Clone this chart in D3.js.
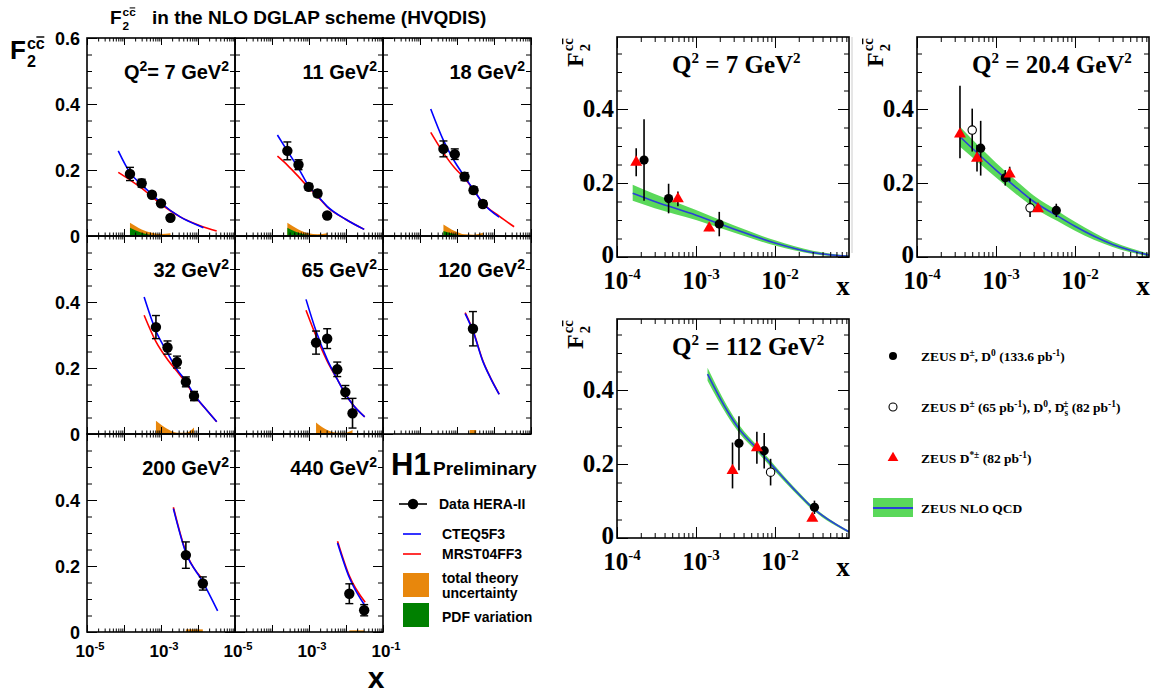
<!DOCTYPE html>
<html>
<head>
<meta charset="utf-8">
<script src="https://cdn.jsdelivr.net/npm/d3@7"></script>
<style>
  body { margin: 0; background: #fff; }
</style>
</head>
<body>
<svg id="chart" width="1155" height="693"></svg>
<script>
// ---------- H1 panels (F2cc in NLO DGLAP scheme) ----------
const h1Q2 = ["7", "11", "18", "32", "65", "120", "200", "440"];

const h1DataX = [
  [1.45e-4, 3.0e-4, 5.7e-4, 1.0e-3, 1.8e-3],
  [2.6e-4, 5.2e-4, 9.8e-4, 1.7e-3, 3.1e-3],
  [4.3e-4, 8.7e-4, 1.6e-3, 2.8e-3, 5.0e-3],
  [7.3e-4, 1.5e-3, 2.7e-3, 4.7e-3, 7.8e-3],
  [1.55e-3, 3.1e-3, 5.8e-3, 9.6e-3, 1.5e-2],
  [2.7e-3],
  [4.7e-3, 1.35e-2],
  [1.23e-2, 3.1e-2]
];
const h1DataY = [
  [0.188, 0.160, 0.125, 0.099, 0.055],
  [0.258, 0.216, 0.149, 0.129, 0.062],
  [0.264, 0.248, 0.180, 0.139, 0.097],
  [0.324, 0.262, 0.218, 0.158, 0.115],
  [0.277, 0.289, 0.196, 0.127, 0.063],
  [0.319],
  [0.233, 0.147],
  [0.116, 0.066]
];
const h1DataErr = [
  [0.020, 0.012, 0.008, 0.008, 0.006],
  [0.027, 0.015, 0.010, 0.010, 0.006],
  [0.024, 0.016, 0.012, 0.010, 0.010],
  [0.035, 0.020, 0.018, 0.015, 0.014],
  [0.035, 0.030, 0.022, 0.020, 0.045],
  [0.052],
  [0.040, 0.020],
  [0.030, 0.017]
];

const cteqX = [
  [7e-5, 1.45e-4, 3e-4, 5.7e-4, 1e-3, 3.3e-3, 1.1e-2, 1.4e-2],
  [1.4e-4, 2.6e-4, 5.2e-4, 1e-3, 1.7e-3, 3.1e-3, 1e-2, 3.1e-2],
  [1.95e-4, 4.3e-4, 8.7e-4, 1.6e-3, 2.8e-3, 5e-3, 1.38e-2],
  [3.5e-4, 7.3e-4, 1.5e-3, 2.7e-3, 4.7e-3, 7.8e-3, 1.5e-2, 3.2e-2],
  [8.3e-4, 1.55e-3, 3.1e-3, 5.8e-3, 9.6e-3, 1.5e-2, 3.2e-2],
  [1.66e-3, 2.7e-3, 5e-3, 8e-3, 1.38e-2],
  [2.16e-3, 4.7e-3, 1.35e-2, 3.4e-2],
  [5.9e-3, 1.23e-2, 3.3e-2]
];
const cteqY = [
  [0.258, 0.192, 0.155, 0.126, 0.100, 0.058, 0.030, 0.025],
  [0.306, 0.258, 0.205, 0.150, 0.122, 0.090, 0.050, 0.020],
  [0.385, 0.290, 0.225, 0.180, 0.140, 0.100, 0.057],
  [0.415, 0.312, 0.246, 0.196, 0.160, 0.120, 0.080, 0.037],
  [0.408, 0.312, 0.226, 0.166, 0.122, 0.090, 0.052],
  [0.365, 0.312, 0.220, 0.170, 0.120],
  [0.374, 0.240, 0.152, 0.064],
  [0.270, 0.165, 0.079]
];
const mrstX = [
  [7e-5, 1.45e-4, 3e-4, 5.7e-4, 1e-3, 3.3e-3, 1.1e-2, 3.2e-2],
  [1.4e-4, 2.6e-4, 5.2e-4, 1e-3, 1.7e-3, 3.1e-3, 1e-2, 3.1e-2],
  [1.95e-4, 4.3e-4, 8.7e-4, 1.6e-3, 2.8e-3, 5e-3, 1.38e-2, 3.5e-2],
  [3.5e-4, 7.3e-4, 1.5e-3, 2.7e-3, 4.7e-3, 7.8e-3, 1.5e-2, 3.2e-2],
  [8.3e-4, 1.55e-3, 3.1e-3, 5.8e-3, 9.6e-3, 1.5e-2, 3.2e-2],
  [1.66e-3, 2.7e-3, 5e-3, 8e-3, 1.38e-2],
  [2.16e-3, 4.7e-3, 1.22e-2],
  [5.9e-3, 1.23e-2, 3.3e-2]
];
const mrstY = [
  [0.193, 0.170, 0.145, 0.119, 0.097, 0.058, 0.032, 0.015],
  [0.242, 0.215, 0.180, 0.145, 0.120, 0.088, 0.050, 0.020],
  [0.314, 0.252, 0.206, 0.175, 0.140, 0.100, 0.060, 0.028],
  [0.360, 0.280, 0.226, 0.190, 0.155, 0.118, 0.080, 0.037],
  [0.375, 0.297, 0.221, 0.166, 0.122, 0.090, 0.052],
  [0.368, 0.314, 0.222, 0.171, 0.121],
  [0.378, 0.243, 0.165],
  [0.275, 0.170, 0.090]
];

const bandX = [
  [1.45e-4, 3.0e-4, 5.7e-4, 1.0e-3, 1.8e-3],
  [2.6e-4, 5.2e-4, 9.8e-4, 1.7e-3, 3.1e-3],
  [4.3e-4, 8.7e-4, 1.6e-3, 2.8e-3, 5.0e-3],
  [7.3e-4, 1.5e-3, 2.7e-3, 4.7e-3, 7.8e-3],
  [1.55e-3, 3.1e-3, 5.8e-3, 9.6e-3, 1.5e-2],
  [2.2e-3, 3.3e-3],
  [4.7e-3, 1.35e-2],
  [1.23e-2, 3.1e-2]
];
const theoryUnc = [
  [0.040, 0.020, 0.010, 0.006, 0.008],
  [0.040, 0.020, 0.008, 0.005, 0.008],
  [0.035, 0.015, 0.005, 0.004, 0.010],
  [0.040, 0.015, 0.004, 0.004, 0.020],
  [0.035, 0.012, 0.004, 0.004, 0.012],
  [0.012, 0.012],
  [0.008, 0.008],
  [0.005, 0.005]
];
const pdfVar = [
  [0.025, 0.010, 0.003, 0.001, 0.001],
  [0.025, 0.010, 0.003, 0.001, 0.001],
  [0.015, 0.005, 0.001, 0.000, 0.000],
  [0.003, 0.000, 0.000, 0.000, 0.000],
  [0.003, 0.000, 0.000, 0.000, 0.000],
  [0.002, 0.002],
  [0.001, 0.001],
  [0.001, 0.001]
];

const h1YTicks = [0, 0.2, 0.4, 0.6];
const h1XTickLabels = [1e-5, 1e-3, 1e-1];

// ---------- ZEUS panels ----------
const zeusQ2 = ["7", "20.4", "112"];

const zeusFullX = [[2.2e-4, 4.5e-4, 1.97e-3], [6.4e-4, 1.31e-3, 5.8e-3], [3.5e-3, 7.3e-3, 3.16e-2]];
const zeusFullY = [[0.262, 0.158, 0.089], [0.294, 0.214, 0.126], [0.256, 0.236, 0.083]];
const zeusFullErr = [[0.110, 0.040, 0.033], [0.074, 0.021, 0.018], [0.073, 0.048, 0.018]];

const zeusOpenX = [[], [5.0e-4, 2.7e-3], [8.8e-3]];
const zeusOpenY = [[], [0.343, 0.133], [0.178]];
const zeusOpenErr = [[], [0.058, 0.025], [0.036]];

const zeusTriX = [[1.75e-4, 5.9e-4, 1.47e-3], [3.5e-4, 5.75e-4, 1.49e-3, 3.4e-3], [2.9e-3, 5.9e-3, 2.97e-2]];
const zeusTriY = [[0.256, 0.157, 0.078], [0.332, 0.267, 0.224, 0.130], [0.182, 0.244, 0.053]];
const zeusTriErrUp = [[0.038, 0.020, 0.008], [0.131, 0.036, 0.020, 0.008], [0.076, 0.043, 0.006]];
const zeusTriErrDn = [[0.038, 0.020, 0.008], [0.065, 0.036, 0.020, 0.008], [0.048, 0.043, 0.006]];

const zeusCurveX = [
  [1.58e-4, 3e-4, 1e-3, 3e-3, 1e-2, 3e-2, 8.65e-2],
  [3.5e-4, 1e-3, 2e-3, 3e-3, 6e-3, 1e-2, 3e-2, 8.65e-2],
  [1.4e-3, 2.45e-3, 3.6e-3, 5.9e-3, 9.5e-3, 1.7e-2, 3.05e-2, 8.57e-2]
];
const zeusCurveY = [
  [0.172, 0.150, 0.113, 0.076, 0.038, 0.012, 0.002],
  [0.325, 0.235, 0.180, 0.150, 0.111, 0.083, 0.034, 0.005],
  [0.443, 0.346, 0.292, 0.242, 0.193, 0.134, 0.080, 0.017]
];
const zeusBandLo = [
  [0.152, 0.132, 0.100, 0.066, 0.031, 0.008, 0.000],
  [0.298, 0.215, 0.162, 0.134, 0.097, 0.071, 0.027, 0.001],
  [0.425, 0.333, 0.281, 0.233, 0.185, 0.128, 0.075, 0.014]
];
const zeusBandHi = [
  [0.195, 0.170, 0.127, 0.086, 0.045, 0.017, 0.004],
  [0.352, 0.255, 0.198, 0.166, 0.125, 0.095, 0.041, 0.009],
  [0.460, 0.359, 0.303, 0.251, 0.201, 0.140, 0.085, 0.020]
];

const zeusYTicks = [0, 0.2, 0.4];
const zeusXTickLabels = [1e-4, 1e-3, 1e-2];

// ---------- drawing ----------
const svg = d3.select("#chart");
const SANS = "'Liberation Sans', Arial, Helvetica, sans-serif";
const SERIF = "'Liberation Serif', 'Times New Roman', serif";
const ORANGE = "#e8870c", DKGREEN = "#008000", LTGREEN = "#5ad85a", ZBLUE = "#2a3fd8";

const isDecade = v => Math.abs(Math.log10(v) - Math.round(Math.log10(v))) < 1e-6;
const isMajorY = v => Math.abs(v / 0.2 - Math.round(v / 0.2)) < 1e-6;

// text with super/subscripts; parts = [text, kind, dx]
function richText(g, x, y, parts, o) {
  const t = g.append("text").attr("x", x).attr("y", y)
    .attr("font-family", o.family).attr("font-weight", "bold")
    .attr("font-size", o.size).attr("text-anchor", o.anchor || "start")
    .attr("fill", "#000");
  let shift = 0;
  parts.forEach(([s, kind, dx]) => {
    const want = kind === "sup" ? -o.size * (o.supRaise || 0.42) : kind === "sub" ? o.size * 0.28 : 0;
    const ts = t.append("tspan").attr("dy", want - shift)
      .attr("font-size", kind === "n" ? o.size : o.size * (o.small || 0.65)).text(s);
    if (dx) ts.attr("dx", dx);
    shift = want;
  });
  return t;
}

// F_2^{c cbar} with stacked sub/sup
function f2Label(g, x, y, size, family) {
  const f = g.append("text").attr("x", x).attr("y", y)
    .attr("font-family", family).attr("font-weight", "bold").attr("font-size", size).text("F");
  const w = f.node().getComputedTextLength();
  const s = size * 0.62;
  const sup = g.append("text").attr("x", x + w + 1).attr("y", y - size * 0.4)
    .attr("font-family", family).attr("font-weight", "bold").attr("font-size", s).text("cc");
  const wc = sup.node().getComputedTextLength() / 2;
  g.append("line")
    .attr("x1", x + w + 1 + wc + 0.5).attr("x2", x + w + 1 + 2 * wc - 0.5)
    .attr("y1", y - size * 0.4 - s * 0.72).attr("y2", y - size * 0.4 - s * 0.72)
    .attr("stroke", "#000").attr("stroke-width", Math.max(1, size / 18));
  g.append("text").attr("x", x + w + 1).attr("y", y + size * 0.3)
    .attr("font-family", family).attr("font-weight", "bold").attr("font-size", s).text("2");
}

// inward ticks on all four sides + frame
function frame(g, xs, ys, o) {
  const [xa, xb] = xs.range(), [yb, ya] = ys.range();
  const xt = xs.ticks();
  const yt = d3.range(0, ys.domain()[1] + 1e-9, 0.05);
  const sets = [
    [d3.axisBottom(xs), `translate(0,${yb})`, xt, isDecade, o.xMaj, o.xMin],
    [d3.axisTop(xs), `translate(0,${ya})`, xt, isDecade, o.xMaj, o.xMin],
    [d3.axisLeft(ys), `translate(${xa},0)`, yt, isMajorY, o.yMaj, o.yMin],
    [d3.axisRight(ys), `translate(${xb},0)`, yt, isMajorY, o.yMaj, o.yMin]
  ];
  sets.forEach(([ax, tr, vals, major, lMaj, lMin]) => {
    [[vals.filter(major), lMaj], [vals.filter(v => !major(v)), lMin]].forEach(([vv, len]) => {
      const a = g.append("g").attr("transform", tr)
        .call(ax.tickValues(vv).tickSize(-len).tickFormat(""));
      a.select(".domain").remove();
      a.selectAll("line").attr("stroke", "#000").attr("stroke-width", 1);
    });
  });
  g.append("rect").attr("x", xa).attr("y", ya).attr("width", xb - xa).attr("height", yb - ya)
    .attr("fill", "none").attr("stroke", "#000").attr("stroke-width", 1.6);
}

// ---- H1 grid ----
const H1L = 87, H1T = 38, H1W = 148, H1H = 198;
const h1 = svg.append("g");

f2Label(h1, 110, 24, 19, SANS);
h1.append("text").attr("x", 152).attr("y", 24).attr("font-family", SANS)
  .attr("font-weight", "bold").attr("font-size", 19).text("in the NLO DGLAP scheme (HVQDIS)");
f2Label(h1, 10, 59, 26, SANS);

h1Q2.forEach((q, i) => {
  const col = i % 3, row = Math.floor(i / 3);
  const x0 = H1L + col * H1W, y0 = H1T + row * H1H;
  const xs = d3.scaleLog().domain([1e-5, 1e-1]).range([x0, x0 + H1W]);
  const ys = d3.scaleLinear().domain([0, 0.6]).range([y0 + H1H, y0]);
  const g = h1.append("g");

  // uncertainty bands at the bottom
  const bx = bandX[i];
  const area = vals => d3.area().x((d, k) => xs(bx[k])).y0(ys(0)).y1(d => ys(d))
    .curve(d3.curveMonotoneX)(vals);
  g.append("path").attr("d", area(theoryUnc[i])).attr("fill", ORANGE);
  g.append("path").attr("d", area(pdfVar[i])).attr("fill", DKGREEN);

  const line = d3.line().x(d => xs(d[0])).y(d => ys(d[1])).curve(d3.curveMonotoneX);
  g.append("path").attr("d", line(d3.zip(mrstX[i], mrstY[i])))
    .attr("fill", "none").attr("stroke", "#ff0000").attr("stroke-width", 1.6);
  g.append("path").attr("d", line(d3.zip(cteqX[i], cteqY[i])))
    .attr("fill", "none").attr("stroke", "#0000ff").attr("stroke-width", 1.6);

  const pts = d3.zip(h1DataX[i], h1DataY[i], h1DataErr[i]);
  const eb = g.selectAll(".eb").data(pts).enter().append("g");
  eb.append("line").attr("x1", d => xs(d[0])).attr("x2", d => xs(d[0]))
    .attr("y1", d => ys(d[1] - d[2])).attr("y2", d => ys(d[1] + d[2]))
    .attr("stroke", "#000").attr("stroke-width", 1.6);
  [-1, 1].forEach(sg => {
    eb.append("line").attr("x1", d => xs(d[0]) - 4).attr("x2", d => xs(d[0]) + 4)
      .attr("y1", d => ys(d[1] + sg * d[2])).attr("y2", d => ys(d[1] + sg * d[2]))
      .attr("stroke", "#000").attr("stroke-width", 1.4);
  });
  eb.append("circle").attr("cx", d => xs(d[0])).attr("cy", d => ys(d[1])).attr("r", 5.2).attr("fill", "#000");

  frame(g, xs, ys, { xMaj: 7, xMin: 3.5, yMaj: 10, yMin: 5 });

  // Q2 label
  const parts = i === 0
    ? [["Q", "n"], ["2", "sup"], ["= 7 GeV", "n"], ["2", "sup"]]
    : [[q + " GeV", "n"], ["2", "sup"]];
  richText(g, x0 + H1W - 6, y0 + 41, parts, { family: SANS, size: 20, anchor: "end", small: 0.7, supRaise: 0.4 });

  // y tick labels on first column
  if (col === 0) {
    h1YTicks.filter(v => v < 0.6 || row === 0).forEach(v => {
      g.append("text").attr("x", x0 - 7).attr("y", ys(v) + 6.5).attr("text-anchor", "end")
        .attr("font-family", SANS).attr("font-weight", "bold").attr("font-size", 18)
        .text(v === 0 ? "0" : d3.format(".1f")(v));
    });
  }
  // x tick labels on bottom row
  if (row === 2) {
    h1XTickLabels.filter(v => v < 0.05 || col === 1).forEach(v => {
      richText(g, xs(v) + 3, y0 + H1H + 25, [["10", "n"], [String(Math.round(Math.log10(v))), "sup"]],
        { family: SANS, size: 17, anchor: "middle", small: 0.66 });
    });
  }
});

h1.append("text").attr("x", 376).attr("y", 688).attr("text-anchor", "middle")
  .attr("font-family", SANS).attr("font-weight", "bold").attr("font-size", 30).text("x");

// H1 legend
const lg = h1.append("g");
lg.append("text").attr("x", 391).attr("y", 475).attr("font-family", SANS).attr("font-weight", "bold")
  .attr("font-size", 31).text("H1");
lg.append("text").attr("x", 433).attr("y", 475).attr("font-family", SANS).attr("font-weight", "bold")
  .attr("font-size", 19).text("Preliminary");
lg.append("line").attr("x1", 399).attr("x2", 427).attr("y1", 504).attr("y2", 504)
  .attr("stroke", "#000").attr("stroke-width", 1.6);
lg.append("circle").attr("cx", 413).attr("cy", 504).attr("r", 5.2).attr("fill", "#000");
lg.append("line").attr("x1", 403).attr("x2", 421).attr("y1", 534).attr("y2", 534)
  .attr("stroke", "#0000ff").attr("stroke-width", 1.6);
lg.append("line").attr("x1", 403).attr("x2", 421).attr("y1", 554).attr("y2", 554)
  .attr("stroke", "#ff0000").attr("stroke-width", 1.6);
lg.append("rect").attr("x", 403).attr("y", 573).attr("width", 26).attr("height", 24).attr("fill", ORANGE);
lg.append("rect").attr("x", 403).attr("y", 603).attr("width", 26).attr("height", 24).attr("fill", DKGREEN);
[["Data HERA-II", 439, 509], ["CTEQ5F3", 442, 539], ["MRST04FF3", 442, 559],
 ["total theory", 442, 583], ["uncertainty", 442, 598], ["PDF variation", 442, 622]].forEach(([s, x, y]) => {
  lg.append("text").attr("x", x).attr("y", y).attr("font-family", SANS).attr("font-weight", "bold")
    .attr("font-size", 14).text(s);
});

// ---- ZEUS panels ----
const zeusBoxes = [{ x: 617, y: 37, h: 220 }, { x: 917, y: 37, h: 220 }, { x: 617, y: 319, h: 219 }];
const ZW = 232, ZPX = 370; // pixels per unit F2
const zg = svg.append("g");

svg.append("line").attr("x1", 852).attr("x2", 852).attr("y1", 37).attr("y2", 253)
  .attr("stroke", "#cccccc").attr("stroke-width", 1);

zeusQ2.forEach((q, i) => {
  const b = zeusBoxes[i];
  const xs = d3.scaleLog().domain([1e-4, 8.65e-2]).range([b.x, b.x + ZW]);
  const ys = d3.scaleLinear().domain([0, b.h / ZPX]).range([b.y + b.h, b.y]);
  const g = zg.append("g");

  const bx = zeusCurveX[i];
  g.append("path").attr("fill", LTGREEN)
    .attr("d", d3.area().x((d, k) => xs(bx[k])).y0((d, k) => ys(zeusBandLo[i][k])).y1((d, k) => ys(zeusBandHi[i][k]))
      .curve(d3.curveMonotoneX)(bx));
  g.append("path").attr("fill", "none").attr("stroke", ZBLUE).attr("stroke-width", 1.6)
    .attr("d", d3.line().x(d => xs(d[0])).y(d => ys(d[1])).curve(d3.curveMonotoneX)(d3.zip(bx, zeusCurveY[i])));

  const bar = (x, y, up, dn) => g.append("line").attr("x1", xs(x)).attr("x2", xs(x))
    .attr("y1", ys(y + up)).attr("y2", ys(y - dn)).attr("stroke", "#000").attr("stroke-width", 1.6);

  zeusTriX[i].forEach((x, k) => bar(x, zeusTriY[i][k], zeusTriErrUp[i][k], zeusTriErrDn[i][k]));
  zeusFullX[i].forEach((x, k) => bar(x, zeusFullY[i][k], zeusFullErr[i][k], zeusFullErr[i][k]));
  zeusOpenX[i].forEach((x, k) => bar(x, zeusOpenY[i][k], zeusOpenErr[i][k], zeusOpenErr[i][k]));

  zeusOpenX[i].forEach((x, k) => g.append("circle").attr("cx", xs(x)).attr("cy", ys(zeusOpenY[i][k]))
    .attr("r", 4.2).attr("fill", "#fff").attr("stroke", "#000").attr("stroke-width", 1.1));
  zeusFullX[i].forEach((x, k) => g.append("circle").attr("cx", xs(x)).attr("cy", ys(zeusFullY[i][k]))
    .attr("r", 4.6).attr("fill", "#000"));
  zeusTriX[i].forEach((x, k) => g.append("path").attr("d", d3.symbol(d3.symbolTriangle, 62)())
    .attr("transform", `translate(${xs(x)},${ys(zeusTriY[i][k])})`).attr("fill", "#ff0000"));

  frame(g, xs, ys, { xMaj: 11, xMin: 5, yMaj: 11, yMin: 5 });

  zeusYTicks.forEach(v => {
    g.append("text").attr("x", b.x - 3).attr("y", ys(v) + (v === 0 ? 6 : 8)).attr("text-anchor", "end")
      .attr("font-family", SERIF).attr("font-weight", "bold").attr("font-size", 25)
      .text(v === 0 ? "0" : d3.format(".1f")(v));
  });
  zeusXTickLabels.forEach(v => {
    richText(g, xs(v) + 5, b.y + b.h + 32, [["10", "n"], [String(Math.round(Math.log10(v))), "sup"]],
      { family: SERIF, size: 25, anchor: "middle", small: 0.6, supRaise: 0.4 });
  });
  g.append("text").attr("x", b.x + ZW - 6).attr("y", b.y + b.h + 38).attr("text-anchor", "middle")
    .attr("font-family", SERIF).attr("font-weight", "bold").attr("font-size", 27).text("x");

  richText(g, b.x + 55, b.y + 36, [["Q", "n"], ["2", "sup"], [" = " + q + " GeV", "n"], ["2", "sup"]],
    { family: SERIF, size: 25, small: 0.6, supRaise: 0.42 });

  const rg = g.append("g").attr("transform", `translate(${b.x - 34},${b.y + 30}) rotate(-90)`);
  f2Label(rg, 0, 0, 24, SERIF);
});

// ZEUS legend
const zl = zg.append("g");
zl.append("circle").attr("cx", 893).attr("cy", 356).attr("r", 4).attr("fill", "#000");
zl.append("circle").attr("cx", 893).attr("cy", 407).attr("r", 4).attr("fill", "#fff")
  .attr("stroke", "#000").attr("stroke-width", 1.1);
zl.append("path").attr("d", d3.symbol(d3.symbolTriangle, 50)()).attr("transform", "translate(893,458)")
  .attr("fill", "#ff0000");
zl.append("rect").attr("x", 873).attr("y", 498).attr("width", 40).attr("height", 19).attr("fill", LTGREEN);
zl.append("line").attr("x1", 873).attr("x2", 913).attr("y1", 508).attr("y2", 508)
  .attr("stroke", ZBLUE).attr("stroke-width", 2);
const zo = { family: SERIF, size: 13.5, small: 0.7, supRaise: 0.4 };
richText(zl, 921, 361, [["ZEUS D", "n"], ["±", "sup"], [", D", "n"], ["0", "sup"], [" (133.6 pb", "n"], ["-1", "sup"], [")", "n"]], zo);
richText(zl, 921, 412, [["ZEUS  D", "n"], ["±", "sup"], [" (65 pb", "n"], ["-1", "sup"], ["), D", "n"], ["0", "sup"],
  [", D", "n"], ["s", "sub"], ["±", "sup", -5], [" (82 pb", "n"], ["-1", "sup"], [")", "n"]], zo);
richText(zl, 921, 463, [["ZEUS D", "n"], ["*±", "sup"], [" (82 pb", "n"], ["-1", "sup"], [")", "n"]], zo);
richText(zl, 921, 513, [["ZEUS NLO QCD", "n"]], zo);
</script>
</body>
</html>
